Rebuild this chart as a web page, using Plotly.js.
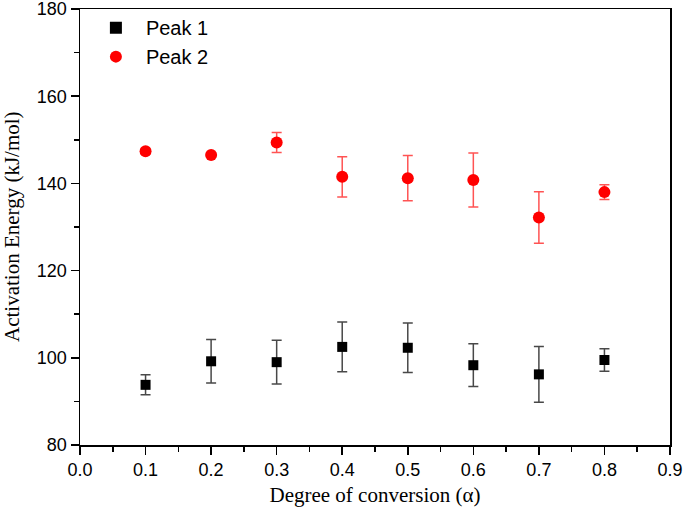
<!DOCTYPE html>
<html>
<head>
<meta charset="utf-8">
<script src="https://cdn.plot.ly/plotly-3.0.1.min.js"></script>
<style>body{margin:0;padding:0;background:#fff}#chart{width:685px;height:508px}</style>
</head>
<body>
<div id="chart"></div>
<script>
const alpha = [0.1, 0.2, 0.3, 0.4, 0.5, 0.6, 0.7, 0.8];
const peak1 = [93.8, 99.2, 99.0, 102.5, 102.3, 98.3, 96.2, 99.5];
const peak1Err = [2.3, 5.0, 5.0, 5.7, 5.7, 4.9, 6.4, 2.6];
const peak2 = [147.4, 146.5, 149.4, 141.5, 141.2, 140.8, 132.2, 138.0];
const peak2Err = [0.6, 0.5, 2.3, 4.6, 5.2, 6.2, 5.9, 1.7];
const xTitle = 'Degree of conversion (α)';
const yTitle = 'Activation Energy (kJ/mol)';

const traces = [
  {
    x: alpha, y: peak1, name: 'Peak 1', type: 'scatter', mode: 'markers',
    marker: {symbol: 'square', size: 10, color: '#000000'},
    error_y: {type: 'data', array: peak1Err, visible: true, color: 'rgba(40,40,40,0.85)', thickness: 1.5, width: 5}
  },
  {
    x: alpha, y: peak2, name: 'Peak 2', type: 'scatter', mode: 'markers',
    marker: {symbol: 'circle', size: 12, color: '#ff0000'},
    error_y: {type: 'data', array: peak2Err, visible: true, color: 'rgba(255,40,40,0.8)', thickness: 1.5, width: 5}
  }
];

const layout = {
  width: 685, height: 508,
  margin: {l: 80, r: 15, t: 9, b: 63, autoexpand: false},
  paper_bgcolor: '#fff', plot_bgcolor: '#fff',
  showlegend: true,
  legend: {x: 0.01, y: 1.002, xanchor: 'left', yanchor: 'top', bgcolor: 'rgba(0,0,0,0)',
           font: {family: 'Liberation Sans, Arial, sans-serif', size: 20, color: '#000'},
           itemsizing: 'constant', itemwidth: 50, tracegroupgap: 0},
  xaxis: {
    range: [0, 0.9], dtick: 0.1, tick0: 0, tickformat: '.1f',
    showgrid: false, zeroline: false,
    showline: true, linecolor: '#000', linewidth: 1.5, mirror: true,
    ticks: 'outside', ticklen: 8, tickwidth: 1.5, tickcolor: '#000',
    minor: {dtick: 0.05, ticks: 'outside', ticklen: 5, tickwidth: 1.5, tickcolor: '#000'},
    ticklabeloverflow: 'allow',
    tickfont: {family: 'Liberation Sans, Arial, sans-serif', size: 18, color: '#000'},
    title: {text: xTitle, standoff: 8,
            font: {family: 'Liberation Serif, Times New Roman, serif', size: 21, color: '#000'}}
  },
  yaxis: {
    range: [80, 180], dtick: 20, tick0: 80,
    showgrid: false, zeroline: false,
    showline: true, linecolor: '#000', linewidth: 1.5, mirror: true,
    ticks: 'outside', ticklen: 8, tickwidth: 1.5, tickcolor: '#000',
    minor: {dtick: 10, ticks: 'outside', ticklen: 5, tickwidth: 1.5, tickcolor: '#000'},
    ticklabeloverflow: 'allow',
    tickfont: {family: 'Liberation Sans, Arial, sans-serif', size: 18, color: '#000'}
  },
  annotations: [{
    text: yTitle, textangle: -90, showarrow: false,
    xref: 'paper', yref: 'paper', x: -68 / 590, y: 0.5, xanchor: 'center', yanchor: 'middle',
    font: {family: 'Liberation Serif, Times New Roman, serif', size: 21, color: '#000'}
  }]
};

Plotly.newPlot('chart', traces, layout, {displayModeBar: false, staticPlot: true});
</script>
</body>
</html>
